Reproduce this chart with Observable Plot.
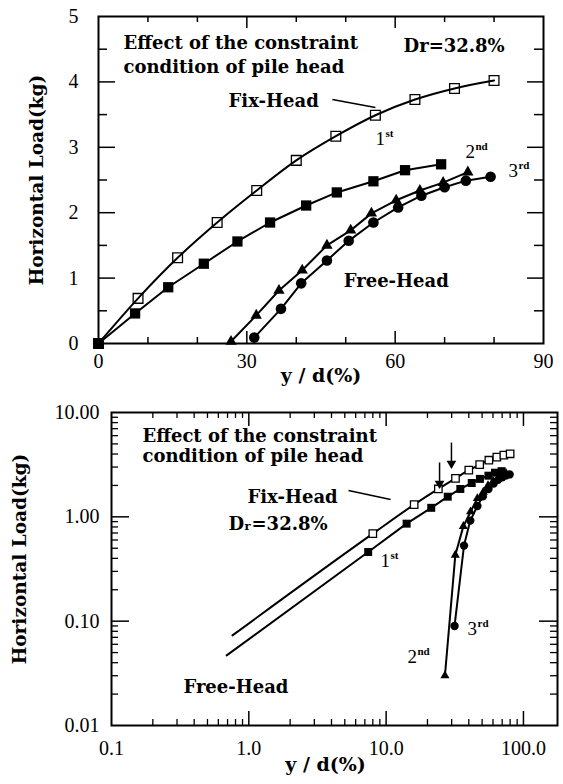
<!DOCTYPE html>
<html><head><meta charset="utf-8">
<script src="https://cdn.jsdelivr.net/npm/d3@7"></script>
<script src="https://cdn.jsdelivr.net/npm/@observablehq/plot@0.6"></script>
<style>
body{margin:0;background:#fff;width:563px;height:784px;overflow:hidden}
#c svg{display:block}
</style></head><body><div id="c"></div>
<script>
// ---- data ----
// Fix-Head (open squares)
const fixX = [0, 8, 16, 24, 32, 40, 48, 56, 64, 72, 80];
const fixY = [0, 0.69, 1.31, 1.85, 2.34, 2.80, 3.17, 3.49, 3.73, 3.90, 4.02];
// Free-Head, 1st loading (filled squares)
const firstX = [0, 7.4, 14.1, 21.3, 28.1, 34.7, 42, 48.2, 55.6, 62, 69.3];
const firstY = [0, 0.46, 0.86, 1.22, 1.56, 1.85, 2.11, 2.31, 2.48, 2.65, 2.74];
// Free-Head, 2nd loading (triangles)
const secondX = [26.8, 31.9, 36.5, 41.2, 46.2, 51, 55.2, 60.2, 65, 69.7, 74.7];
const secondY = [0.03, 0.43, 0.81, 1.12, 1.5, 1.73, 1.99, 2.19, 2.34, 2.46, 2.62];
// Free-Head, 3rd loading (circles)
const thirdX = [31.5, 36.9, 41, 46.2, 50.6, 55.6, 60.6, 65.3, 70, 74.3, 79.3];
const thirdY = [0.09, 0.53, 0.92, 1.27, 1.57, 1.85, 2.08, 2.26, 2.39, 2.49, 2.55];
// lower-left ends of the fitted lines in the log-log chart
const fixLogStart = [0.76, 0.073];
const firstLogStart = [0.69, 0.047];

// tick labels
const topXTicks = [0, 30, 60, 90];
const topYTicks = [0, 1, 2, 3, 4, 5];
const logXTicks = [0.1, 1, 10, 100];
const logXLabels = ["0.1", "1.0", "10.0", "100.0"];
const logYTicks = [0.01, 0.1, 1, 10];
const logYLabels = ["0.01", "0.10", "1.00", "10.00"];

// ---- helpers ----
const pts = (xs, ys) => xs.map((x, i) => ({x, y: ys[i]}));
const fix = pts(fixX, fixY), first = pts(firstX, firstY),
      second = pts(secondX, secondY), third = pts(thirdX, thirdY);
const pos = a => a.filter(d => d.x > 0 && d.y > 0);
function logMinor(lo, hi) {
  const out = [];
  for (let e = Math.floor(Math.log10(lo)); e <= Math.ceil(Math.log10(hi)); e++)
    for (let k = 2; k <= 9; k++) { const v = k * 10 ** e; if (v > lo && v < hi) out.push(v); }
  return out;
}
const SERIF = "'Liberation Serif', 'Times New Roman', serif";
const BOLD = "'DejaVu Serif', serif";
const W = 563;
const tf = {fontFamily: BOLD, fontWeight: "bold", fontSize: 18, textAnchor: "start", lineAnchor: "bottom"};

function ordinalMarks(ords, big, small, dx) {
  return [
    Plot.text(ords, {x: "x", y: "y", text: "n", fontFamily: SERIF, fontSize: big, textAnchor: "start", lineAnchor: "bottom"}),
    Plot.text(ords, {x: "x", y: "y", text: "s", fontFamily: SERIF, fontWeight: "bold", fontSize: small, textAnchor: "start", lineAnchor: "bottom", dx, dy: -8})
  ];
}

// ================= TOP (linear) =================
{
  const H = 395, mt = 16, mb = 52, ml = 98, mr = 20;
  const ih = H - mt - mb, iw = W - ml - mr;
  const xMinor = d3.range(10, 90, 10).filter(v => v % 30), xMajor = [30, 60];
  const yMinor = [0.5, 1.5, 2.5, 3.5, 4.5], yMajor = [1, 2, 3, 4];
  const annot = [
    {x: 5.06, y: 4.51, text: "Effect of the constraint"},
    {x: 5.06, y: 4.14, text: "condition of pile head"},
    {x: 61.7, y: 4.45, text: "Dr=32.8%"},
    {x: 26.3, y: 3.62, text: "Fix-Head"},
    {x: 49.6, y: 0.86, text: "Free-Head"}
  ];
  const ords = [{x: 56, y: 3.03, n: "1", s: "st"}, {x: 74.2, y: 2.84, n: "2", s: "nd"}, {x: 82.9, y: 2.54, n: "3", s: "rd"}];
  const leader = [{x1: 47.3, y1: 3.73, x2: 56, y2: 3.61}];
  const p = Plot.plot({
    width: W, height: H, marginTop: mt, marginBottom: mb, marginLeft: ml, marginRight: mr,
    style: {fontFamily: SERIF, fontSize: "20px", color: "black", background: "white"},
    x: {domain: [0, 90]}, y: {domain: [0, 5]},
    marks: [
      Plot.frame({stroke: "black", strokeWidth: 2}),
      Plot.tickX(xMinor, {x: d => d, insetTop: ih - 6, strokeWidth: 1.5}),
      Plot.tickX(xMajor, {x: d => d, insetTop: ih - 12, strokeWidth: 1.5}),
      Plot.tickX(xMinor, {x: d => d, insetBottom: ih - 6, strokeWidth: 1.5}),
      Plot.tickX(xMajor, {x: d => d, insetBottom: ih - 12, strokeWidth: 1.5}),
      Plot.tickY(yMinor, {y: d => d, insetRight: iw - 9, strokeWidth: 1.5}),
      Plot.tickY(yMajor, {y: d => d, insetRight: iw - 17, strokeWidth: 1.5}),
      Plot.tickY(yMinor, {y: d => d, insetLeft: iw - 9, strokeWidth: 1.5}),
      Plot.tickY(yMajor, {y: d => d, insetLeft: iw - 16, strokeWidth: 1.5}),
      Plot.axisX({ticks: topXTicks, tickFormat: d => String(d), tickSize: 0, tickPadding: 10, label: null, fontSize: 20}),
      Plot.axisY({ticks: topYTicks, tickFormat: d => String(d), tickSize: 0, tickPadding: 20, label: null, fontSize: 20}),
      Plot.text(["y / d(%)"], {frameAnchor: "bottom", dy: 38, fontFamily: BOLD, fontWeight: "bold", fontSize: 19, textAnchor: "middle"}),
      Plot.text(["Horizontal Load(kg)"], {frameAnchor: "left", rotate: -90, dx: -61, textAnchor: "middle", fontFamily: BOLD, fontWeight: "bold", fontSize: 18.5}),
      Plot.line(fix, {x: "x", y: "y", curve: "monotone-x", strokeWidth: 2}),
      Plot.line(first, {x: "x", y: "y", strokeWidth: 2}),
      Plot.line(second, {x: "x", y: "y", strokeWidth: 2}),
      Plot.line(third, {x: "x", y: "y", strokeWidth: 2}),
      Plot.dot(fix, {x: "x", y: "y", symbol: "square", r: 5.5, stroke: "black", fill: "none", strokeWidth: 1.3}),
      Plot.dot(first, {x: "x", y: "y", symbol: "square", r: 5.8, fill: "black", stroke: "none"}),
      Plot.dot(second, {x: "x", y: "y", symbol: "triangle", r: 4.2, fill: "black", stroke: "none"}),
      Plot.dot(third, {x: "x", y: "y", symbol: "circle", r: 5.3, fill: "black", stroke: "none"}),
      Plot.link(leader, {x1: "x1", y1: "y1", x2: "x2", y2: "y2", strokeWidth: 1.5}),
      Plot.text(annot, {x: "x", y: "y", text: "text", ...tf}),
      ...ordinalMarks(ords, 19, 11, 10)
    ]
  });
  document.getElementById("c").append(p);
}

// ================= BOTTOM (log-log) =================
{
  const H = 389, mt = 17, mb = 59, ml = 111, mr = 6;
  const ih = H - mt - mb, iw = W - ml - mr;
  const xMinor = logMinor(0.1, 177), yMinor = logMinor(0.01, 10);
  const xMajor = [1, 10, 100], yMajor = [0.1, 1];
  const annot = [
    {x: 0.168, y: 5.27, text: "Effect of the constraint"},
    {x: 0.168, y: 3.32, text: "condition of pile head"},
    {x: 0.978, y: 1.371, text: "Fix-Head"},
    {x: 0.711, y: 0.740, text: "D\u1d63=32.8%"},
    {x: 0.334, y: 0.0207, text: "Free-Head"}
  ];
  const ords = [{x: 9.1, y: 0.327, n: "1", s: "st"}, {x: 14.3, y: 0.0393, n: "2", s: "nd"}, {x: 39.2, y: 0.073, n: "3", s: "rd"}];
  const leader = [{x1: 5.32, y1: 1.787, x2: 10.77, y2: 1.466}];
  const arrows = [{x: 29.9, y1: 5.15, y2: 2.97}, {x: 24.5, y1: 3.32, y2: 1.91}];
  const fixLine = [{x: fixLogStart[0], y: fixLogStart[1]}, ...pos(fix)];
  const firstLine = [{x: firstLogStart[0], y: firstLogStart[1]}, ...pos(first)];
  const p = Plot.plot({
    width: W, height: H, marginTop: mt, marginBottom: mb, marginLeft: ml, marginRight: mr,
    style: {fontFamily: SERIF, fontSize: "20px", color: "black", background: "white"},
    x: {type: "log", domain: [0.1, 177]}, y: {type: "log", domain: [0.01, 10]},
    marks: [
      Plot.frame({stroke: "black", strokeWidth: 2}),
      Plot.tickX(xMinor, {x: d => d, insetTop: ih - 6, strokeWidth: 1.3}),
      Plot.tickX(xMajor, {x: d => d, insetTop: ih - 14, strokeWidth: 1.5}),
      Plot.tickX(xMinor, {x: d => d, insetBottom: ih - 6, strokeWidth: 1.3}),
      Plot.tickX(xMajor, {x: d => d, insetBottom: ih - 14, strokeWidth: 1.5}),
      Plot.tickY(yMinor, {y: d => d, insetRight: iw - 7, strokeWidth: 1.3}),
      Plot.tickY(yMajor, {y: d => d, insetRight: iw - 18, strokeWidth: 1.5}),
      Plot.tickY(yMinor, {y: d => d, insetLeft: iw - 7, strokeWidth: 1.3}),
      Plot.tickY(yMajor, {y: d => d, insetLeft: iw - 18, strokeWidth: 1.5}),
      Plot.axisX({ticks: logXTicks, tickFormat: d => logXLabels[logXTicks.indexOf(d)], tickSize: 0, tickPadding: 15, label: null, fontSize: 20}),
      Plot.axisY({ticks: logYTicks, tickFormat: d => logYLabels[logYTicks.indexOf(d)], tickSize: 0, tickPadding: 12, label: null, fontSize: 20}),
      Plot.text(["y / d(%)"], {frameAnchor: "bottom", dy: 45, dx: -9, textAnchor: "middle", fontFamily: BOLD, fontWeight: "bold", fontSize: 19}),
      Plot.text(["Horizontal Load(kg)"], {frameAnchor: "left", rotate: -90, dx: -91, dy: -10, textAnchor: "middle", fontFamily: BOLD, fontWeight: "bold", fontSize: 18.5}),
      Plot.line(fixLine, {x: "x", y: "y", curve: "monotone-x", strokeWidth: 2}),
      Plot.line(firstLine, {x: "x", y: "y", strokeWidth: 2}),
      Plot.line(second, {x: "x", y: "y", strokeWidth: 2}),
      Plot.line(third, {x: "x", y: "y", strokeWidth: 2}),
      Plot.dot(pos(fix), {x: "x", y: "y", symbol: "square", r: 4.2, stroke: "black", fill: "white", strokeWidth: 1.3}),
      Plot.dot(pos(first), {x: "x", y: "y", symbol: "square", r: 4.5, fill: "black", stroke: "none"}),
      Plot.dot(second, {x: "x", y: "y", symbol: "triangle", r: 3.4, fill: "black", stroke: "none"}),
      Plot.dot(third, {x: "x", y: "y", symbol: "circle", r: 4.2, fill: "black", stroke: "none"}),
      Plot.link(leader, {x1: "x1", y1: "y1", x2: "x2", y2: "y2", strokeWidth: 1.5}),
      Plot.link(arrows, {x: "x", y1: "y1", y2: "y2", strokeWidth: 1.5}),
      Plot.dot(arrows, {x: "x", y: "y2", symbol: "triangle", rotate: 180, r: 3.6, dy: -4, fill: "black", stroke: "none"}),
      Plot.text(annot, {x: "x", y: "y", text: "text", ...tf}),
      ...ordinalMarks(ords, 19, 11, 10)
    ]
  });
  document.getElementById("c").append(p);
}
</script></body></html>
